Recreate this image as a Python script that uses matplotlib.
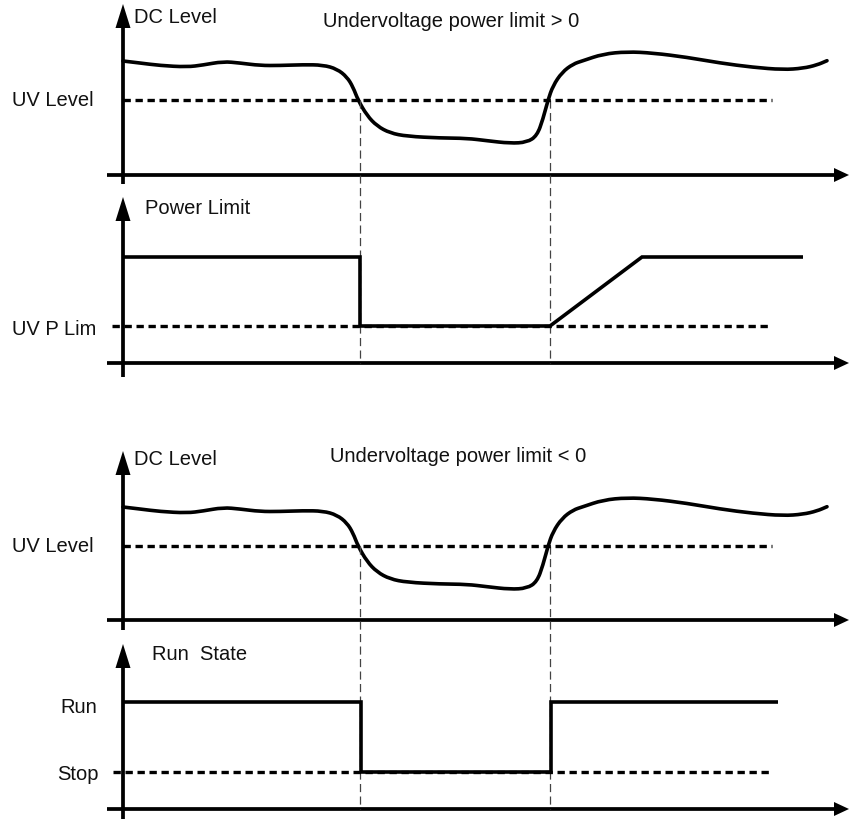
import matplotlib
matplotlib.use("Agg")
import matplotlib.pyplot as plt
from matplotlib.path import Path
from matplotlib.patches import PathPatch

plt.rcParams['font.family'] = ['Liberation Sans', 'DejaVu Sans']

# ---- data (pixel-like diagram coordinates: x = time, y = level, y grows downward) ----
# DC bus level curve (upper panel; lower panel is the same signal shifted down)
dc_t = [123, 140, 160, 187, 203, 223, 240, 260, 280, 303, 323, 337, 347, 353, 358,
        367, 377, 390, 407, 440, 467, 487, 510, 527, 537, 543, 548, 553, 562, 573,
        583, 603, 627, 653, 687, 720, 753, 783, 803, 817, 827]
dc_v = [62, 64, 66.5, 68, 66, 62.5, 64, 66.5, 66.5, 65.7, 66, 70, 78, 88, 101,
        116.5, 127, 134, 137.3, 139, 139.3, 141.7, 144.3, 143.3, 136.7, 120, 101, 86.7, 73.3, 65,
        61.7, 55, 52.7, 54, 58.3, 64, 68.3, 70.7, 69.3, 66, 61.7]
uv_level = 101
lower_offset = 446          # vertical shift of the "< 0" diagram

# event times (UV trip / recovery)
t_drop = 360
t_rise = 550

# Power limit trace
pl_t = [123, 360, 360, 550, 642, 803]
pl_v = [258, 258, 327, 327, 258, 258]
uv_p_lim = 327

# Run state trace
rs_t = [123, 361, 361, 551, 551, 778]
rs_v = [703, 703, 773, 773, 703, 703]
run_level = 703
stop_level = 773

# axes frames: (y of x-axis, top arrow tip of y-axis, bottom of y-axis)
frames = [(176, 5, 185), (364, 198, 378), (621, 452, 631), (810, 645, 820)]
y_axis_x = 123
x_axis_start = 107
x_axis_tip = 849
dotted_end = 772

W, H = 849, 820
fig = plt.figure(figsize=(W / 100, H / 100), dpi=100)
ax = fig.add_axes([0, 0, 1, 1])
ax.set_xlim(0, W)
ax.set_ylim(H, 0)
ax.axis('off')

k = 'black'
axis_lw = 2.7
sig_lw = 2.6
dot_lw = 2.4
dot_style = (0, (2.2, 1.4))
vdash_style = (0, (6.5, 3.5))


def smooth_path(xs, ys):
    """Quadratic-Bezier rendering through the read points (midpoint scheme)."""
    verts = [(xs[0], ys[0])]
    codes = [Path.MOVETO]
    for i in range(1, len(xs) - 1):
        mx = (xs[i] + xs[i + 1]) / 2
        my = (ys[i] + ys[i + 1]) / 2
        verts += [(xs[i], ys[i]), (mx, my)]
        codes += [Path.CURVE3, Path.CURVE3]
    verts.append((xs[-1], ys[-1]))
    codes.append(Path.LINETO)
    return Path(verts, codes)


# axes with arrowheads
for (yx, ytip, ybot) in frames:
    head_len_v = 24
    ax.plot([y_axis_x, y_axis_x], [ytip + head_len_v - 2, ybot], color=k, lw=axis_lw,
            solid_capstyle='butt')
    ax.fill([y_axis_x - 7.5, y_axis_x + 7.5, y_axis_x], [ytip + head_len_v, ytip + head_len_v, ytip],
            color=k, lw=0)
    ax.plot([x_axis_start, x_axis_tip - 14], [yx, yx], color=k, lw=axis_lw, solid_capstyle='butt')
    ax.fill([x_axis_tip - 15, x_axis_tip - 15, x_axis_tip], [yx - 7, yx + 7, yx], color=k, lw=0)

# vertical dashed event lines
for top, bot in [(uv_level, frames[1][0]), (uv_level + lower_offset, frames[3][0])]:
    for t in (t_drop, t_rise):
        ax.plot([t, t], [top, bot], color='#444444', lw=0.9, linestyle=vdash_style)

# dotted threshold lines
for x0, yv in [(y_axis_x, uv_level), (y_axis_x, uv_level + lower_offset),
               (112, uv_p_lim), (113, stop_level)]:
    ax.plot([x0, dotted_end], [yv, yv], color=k, lw=dot_lw, linestyle=dot_style,
            dash_capstyle='butt')

# DC level curves
for off in (0, lower_offset):
    p = smooth_path(dc_t, [v + off for v in dc_v])
    ax.add_patch(PathPatch(p, facecolor='none', edgecolor=k, lw=sig_lw,
                           capstyle='round', joinstyle='round'))

# power limit and run state
ax.plot(pl_t, pl_v, color=k, lw=sig_lw, solid_joinstyle='miter', solid_capstyle='butt')
ax.plot(rs_t, rs_v, color=k, lw=sig_lw, solid_joinstyle='miter', solid_capstyle='butt')

# texts
fs = 14.5
txt = dict(color='#111111', fontsize=fs, va='baseline', ha='left')
ax.text(134, 23, 'DC Level', **txt)
ax.text(323, 27, 'Undervoltage power limit > 0', **txt)
ax.text(12, 106, 'UV Level', **txt)
ax.text(145, 214, 'Power Limit', **txt)
ax.text(12, 335, 'UV P Lim', **txt)
ax.text(134, 465, 'DC Level', **txt)
ax.text(330, 462, 'Undervoltage power limit < 0', **txt)
ax.text(12, 552, 'UV Level', **txt)
ax.text(152, 660, 'Run  State', **txt)
ax.text(60, 713, 'Run', **txt)
ax.text(57, 780, 'Stop', **txt)

fig.savefig('out.png', dpi=100)
